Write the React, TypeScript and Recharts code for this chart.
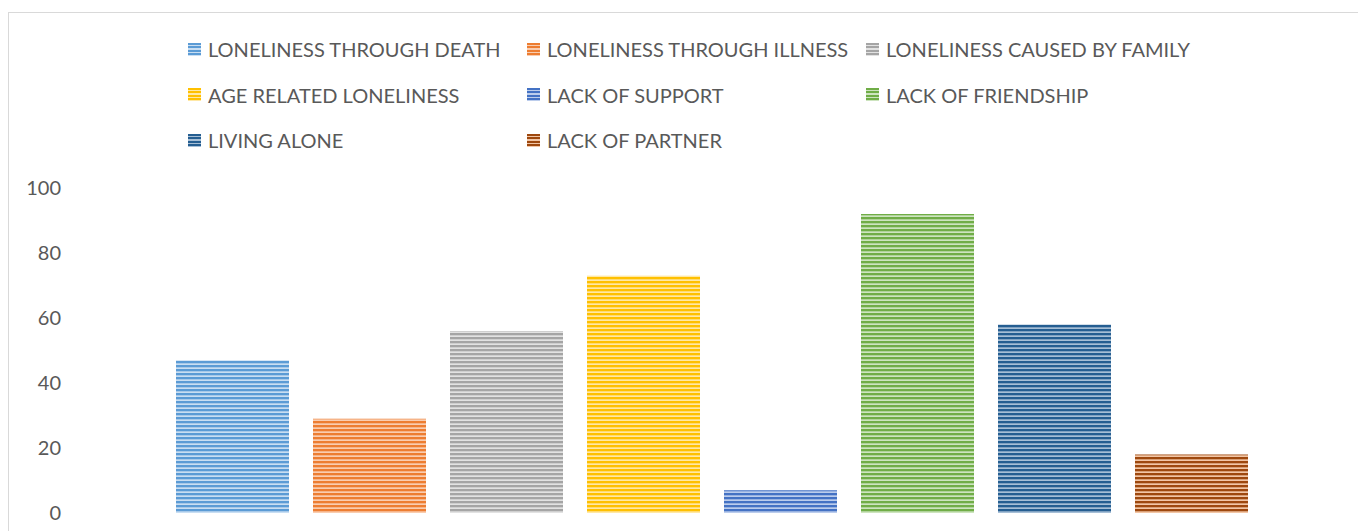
import React from 'react';
import { BarChart, Bar, XAxis, YAxis, Legend } from 'recharts';

const seriesKeys = ['death', 'illness', 'family', 'age', 'support', 'friendship', 'alone', 'partner'];
const seriesNames = [
  'LONELINESS THROUGH DEATH',
  'LONELINESS THROUGH ILLNESS',
  'LONELINESS CAUSED BY FAMILY',
  'AGE RELATED LONELINESS',
  'LACK OF SUPPORT',
  'LACK OF FRIENDSHIP',
  'LIVING ALONE',
  'LACK OF PARTNER',
];
const seriesValues = [47, 29, 56, 73, 7, 92, 58, 18];
const seriesColors = ['#5B9BD5', '#ED7D31', '#A5A5A5', '#FFC000', '#4472C4', '#70AD47', '#255E91', '#9E480E'];
const seriesLight = ['#C9DEF2', '#F9CDB0', '#E2E2E2', '#FFE8A6', '#BCCDEC', '#CDE4BF', '#A7BFD6', '#F2C6A6'];
const yTicks = [0, 20, 40, 60, 80, 100];

const data = [
  seriesKeys.reduce((row: any, k, i) => {
    row[k] = seriesValues[i];
    return row;
  }, { name: '' } as any),
];

const FONT = 'Lato, "Open Sans", sans-serif';

const LegendContent = () => (
  <div style={{ position: 'relative', height: 160, width: 1349, fontFamily: FONT }}>
    {seriesNames.map((n, i) => {
      const col = i % 3;
      const row = Math.floor(i / 3);
      return (
        <div
          key={n}
          style={{
            position: 'absolute',
            left: 179 + col * 339,
            top: row * 45.5 - 1.5,
            height: 45,
            display: 'flex',
            alignItems: 'center',
            whiteSpace: 'nowrap',
            fontSize: 20,
            color: '#595959',
          }}
        >
          <span
            style={{
              display: 'inline-block',
              width: 13,
              height: 13,
              marginRight: 7,
              background: `repeating-linear-gradient(to bottom, ${seriesColors[i]} 0px, ${seriesColors[i]} 2px, ${seriesLight[i]} 2px, ${seriesLight[i]} 3.3px)`,
            }}
          />
          {n}
        </div>
      );
    })}
  </div>
);

export default function App() {
  return (
    <div
      style={{
        position: 'fixed',
        left: 8,
        top: 12,
        width: 1350,
        height: 530,
        borderTop: '1px solid #D9D9D9',
        borderLeft: '1px solid #D9D9D9',
        background: '#fff',
      }}
    >
      <BarChart
        width={1349}
        height={518}
        data={data}
        margin={{ top: 15, right: 43, bottom: 18, left: 0 }}
        barGap={24}
        barSize={113}
      >
        <defs>
          {seriesColors.map((c, i) => (
            <pattern key={i} id={`stripe${i}`} patternUnits="userSpaceOnUse" width={8} height={4}>
              <rect x={0} y={0} width={8} height={4} fill={seriesLight[i]} />
              <rect x={0} y={0} width={8} height={2} fill={c} />
              <rect x={0} y={2} width={8} height={0.7} fill={c} fillOpacity={0.45} />
            </pattern>
          ))}
        </defs>
        <XAxis dataKey="name" hide />
        <YAxis
          domain={[0, 100]}
          ticks={yTicks}
          width={100}
          axisLine={false}
          tickLine={false}
          tickSize={0}
          tickMargin={48}
          tick={{ fill: '#595959', fontSize: 20, fontFamily: FONT }}
          interval={0}
        />
        <Legend verticalAlign="top" align="left" content={<LegendContent />} wrapperStyle={{ left: 0, width: 1349 }} />
        {seriesKeys.map((k, i) => (
          <Bar key={k} dataKey={k} name={seriesNames[i]} fill={`url(#stripe${i})`} isAnimationActive={false} />
        ))}
      </BarChart>
    </div>
  );
}
